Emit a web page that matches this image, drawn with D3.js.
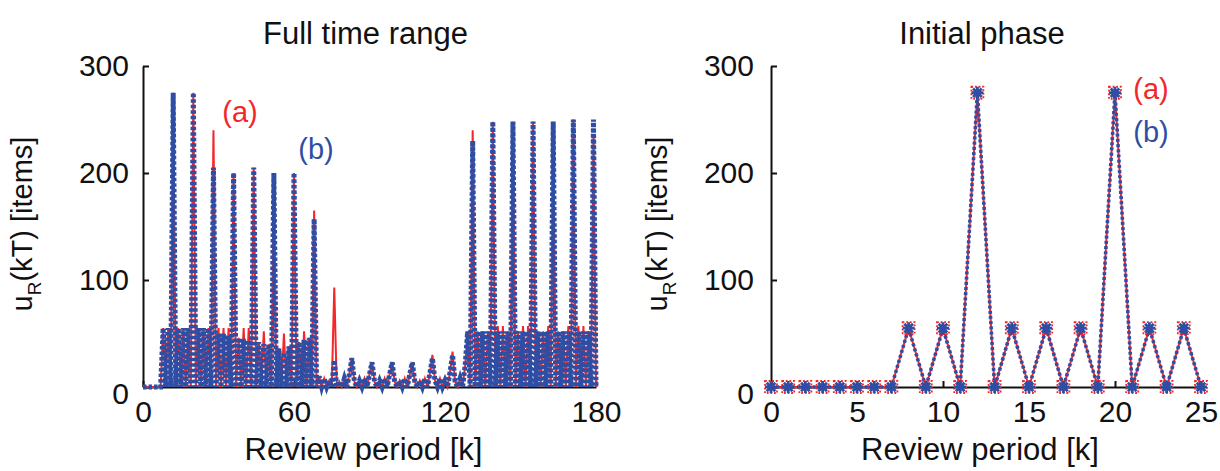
<!DOCTYPE html>
<html><head><meta charset="utf-8">
<script src="https://cdn.jsdelivr.net/npm/d3@7"></script>
<style>
body{margin:0;background:#fff}
text{font-family:"Liberation Sans",Arial,Helvetica,sans-serif;fill:#111}
</style>
</head><body>
<svg id="chart" width="1220" height="471"></svg>
<script>
// ---- data (review period k = 0..180) ----
const seriesA = [
  0,0,0,0,0,0,0,0,55,0,
  55,0,275,0,55,0,55,0,55,0,
  275,0,55,0,55,0,55,0,240,0,
  55,0,55,0,55,0,200,0,46,0,
  55,0,55,0,205,0,42,0,52,0,
  40,0,200,0,36,0,50,0,38,0,
  200,0,42,0,52,0,46,0,165,0,
  10,0,8,0,6,0,93,0,5,0,
  8,0,12,27,5,0,6,0,8,0,
  12,23,5,0,6,0,8,0,12,23,
  5,0,6,0,8,0,12,23,5,0,
  6,0,8,0,13,30,6,0,8,0,
  6,0,14,33,5,0,8,0,20,52,
  0,240,0,52,0,52,0,52,0,248,
  0,57,0,57,0,52,0,248,0,52,
  0,57,0,57,0,248,0,52,0,52,
  0,57,0,248,0,52,0,52,0,57,
  0,250,0,57,0,57,0,52,0,235,
  0
];
const seriesB = [
  0,0,0,0,0,0,0,0,55,0,
  55,0,275,0,55,0,55,0,55,0,
  275,0,55,0,55,0,55,0,205,0,
  50,0,50,0,48,0,200,0,46,0,
  45,0,44,0,205,0,42,0,40,0,
  40,0,200,0,36,0,32,0,38,0,
  200,0,42,0,44,0,46,0,157,0,
  10,0,8,0,6,0,25,0,5,0,
  8,0,12,27,5,0,6,0,8,0,
  12,23,5,0,6,0,8,0,12,23,
  5,0,6,0,8,0,12,23,5,0,
  6,0,8,0,13,27,6,0,8,0,
  6,0,14,30,5,0,8,0,20,52,
  0,230,0,52,0,52,0,52,0,248,
  0,52,0,52,0,52,0,248,0,52,
  0,52,0,52,0,248,0,52,0,52,
  0,52,0,248,0,52,0,52,0,52,
  0,250,0,52,0,52,0,52,0,250,
  0
];
const initialCount = 26;               // initial phase shows k = 0..25
const yTicks = [0, 100, 200, 300];
const fullXTicks = [0, 60, 120, 180];
const initXTicks = [0, 5, 10, 15, 20, 25];
const titles = ["Full time range", "Initial phase"];
const xLabel = "Review period [k]";
const seriesNames = ["(a)", "(b)"];

const RED = "#f4262a", BLUE = "#2f4ea3";
const svg = d3.select("#chart");

function panel(opts) {
  const {x0, x1, xMax, xTicks, dataA, dataB, title, labelPos, ylabX, yPad, markers, blueW, blueDash} = opts;
  const x = d3.scaleLinear().domain([0, xMax]).range([x0, x1]);
  const y = d3.scaleLinear().domain([0, 300]).range([387, 66]);
  const g = svg.append("g");

  // axes
  const ya = g.append("g").attr("transform", `translate(${x0},0)`)
    .call(d3.axisLeft(y).tickValues(yTicks).tickSizeInner(-6).tickSizeOuter(0).tickPadding(yPad));
  const xa = g.append("g").attr("transform", `translate(0,387)`)
    .call(d3.axisBottom(x).tickValues(xTicks).tickSizeInner(-6).tickSizeOuter(0).tickPadding(14));
  [ya, xa].forEach(a => {
    a.select(".domain").attr("stroke", "#111").attr("stroke-width", 2);
    a.selectAll(".tick line").attr("stroke", "#111").attr("stroke-width", 2);
    a.selectAll("text").attr("font-size", 30).attr("fill", "#111")
      .style("font-family", '"Liberation Sans",Arial,sans-serif');
  });
  ya.selectAll(".tick").filter(d => d === 0).select("text").attr("dy", "0.55em");

  const line = d3.line().x((d, i) => x(i)).y(d => y(d));
  g.append("path").datum(dataA).attr("d", line)
    .attr("fill", "none").attr("stroke", RED).attr("stroke-width", 2);
  g.append("path").datum(dataB).attr("d", line)
    .attr("fill", "none").attr("stroke", BLUE).attr("stroke-width", blueW)
    .attr("stroke-dasharray", blueDash);

  if (markers) {
    g.selectAll(".ma").data(dataA).enter().append("rect")
      .attr("x", (d, i) => x(i) - 6).attr("y", d => y(d) - 6)
      .attr("width", 12).attr("height", 12)
      .attr("fill", "none").attr("stroke", RED).attr("stroke-width", 1.8)
      .attr("stroke-dasharray", "1.8,1.8");
    const s = 6, t = s * 0.72;
    g.selectAll(".mb").data(dataB).enter().append("path")
      .attr("d", (d, i) => {
        const cx = x(i), cy = y(d);
        return `M${cx - s},${cy}L${cx + s},${cy}M${cx},${cy - s}L${cx},${cy + s}` +
               `M${cx - t},${cy - t}L${cx + t},${cy + t}M${cx - t},${cy + t}L${cx + t},${cy - t}`;
      })
      .attr("stroke", BLUE).attr("stroke-width", 2.8).attr("fill", "none");
  }

  // title & labels
  const cx = (x0 + x1) / 2;
  g.append("text").attr("x", cx - 4).attr("y", 44).attr("text-anchor", "middle")
    .attr("font-size", 31).text(title);
  g.append("text").attr("x", cx - 6).attr("y", 460).attr("text-anchor", "middle")
    .attr("font-size", 31).text(xLabel);
  const yl = g.append("text").attr("transform", `translate(${ylabX},224) rotate(-90)`)
    .attr("text-anchor", "middle").attr("font-size", 29);
  yl.append("tspan").text("u");
  yl.append("tspan").attr("font-size", 19).attr("dy", 9).text("R");
  yl.append("tspan").attr("dy", -9).text("(kT) [items]");

  // series labels
  g.append("text").attr("x", labelPos[0][0]).attr("y", labelPos[0][1]).attr("text-anchor", "middle")
    .attr("font-size", 29).style("fill", RED).text(seriesNames[0]);
  g.append("text").attr("x", labelPos[1][0]).attr("y", labelPos[1][1]).attr("text-anchor", "middle")
    .attr("font-size", 29).style("fill", BLUE).text(seriesNames[1]);
}

panel({x0: 143, x1: 596, xMax: 180, xTicks: fullXTicks,
  dataA: seriesA, dataB: seriesB, title: titles[0],
  labelPos: [[240, 122], [316, 159]], ylabX: 32, yPad: 14, markers: false,
  blueW: 5, blueDash: "3.5,2"});
panel({x0: 771, x1: 1201, xMax: 25, xTicks: initXTicks,
  dataA: seriesA.slice(0, initialCount), dataB: seriesB.slice(0, initialCount), title: titles[1],
  labelPos: [[1151, 99], [1151, 142]], ylabX: 667, yPad: 17, markers: true,
  blueW: 3.6, blueDash: "3,2.2"});
</script>
</body></html>
